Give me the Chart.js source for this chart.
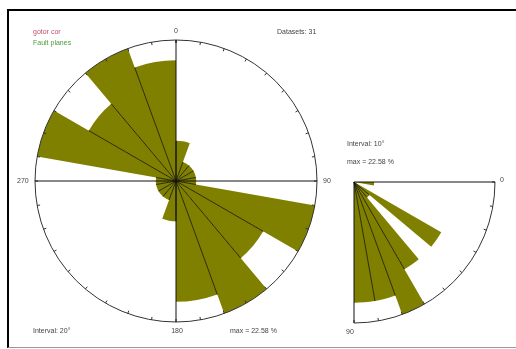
<!DOCTYPE html>
<html>
<head>
<meta charset="utf-8">
<script src="https://cdn.jsdelivr.net/npm/chart.js@4/dist/chart.umd.min.js"></script>
<style>
  html, body { margin: 0; padding: 0; background: #fff; }
  #wrap { position: relative; width: 516px; height: 349px; overflow: hidden; background: #fff; }
  #frame { position: absolute; left: 7px; top: 9px; width: 530px; height: 336px;
           border-left: 2px solid #000; border-top: 2px solid #000; border-bottom: 1px solid #999; }
  canvas { position: absolute; left: 0; top: 0; }
  .note { position: absolute; font: 7px "Liberation Sans", Arial, sans-serif; line-height: 8px;
          color: #444; white-space: nowrap; }
</style>
</head>
<body>
<div id="wrap">
  <div id="frame"></div>
  <canvas id="strike" width="516" height="349"></canvas>
  <canvas id="dip" width="516" height="349"></canvas>
  <div class="note" style="left:33px;top:28px;color:#c0506a;">gotor cor</div>
  <div class="note" style="left:33px;top:39px;color:#4f9a3c;">Fault planes</div>
  <div class="note" style="left:277px;top:28px;">Datasets: 31</div>
  <div class="note" style="left:33px;top:327px;">Interval: 20°</div>
  <div class="note" style="left:230px;top:327px;">max = 22.58 %</div>
  <div class="note" style="left:347px;top:140px;">Interval: 10°</div>
  <div class="note" style="left:347px;top:158px;">max = 22.58 %</div>
</div>
<script>
// Strike rose, 20° classes clockwise from north (bidirectional), in % of 31 planes
const strikeBins = ['0-20', '20-40', '40-60', '60-80', '80-100', '100-120', '120-140', '140-160', '160-180',
                    '180-200', '200-220', '220-240', '240-260', '260-280', '280-300', '300-320', '320-340', '340-360'];
const strikePct = [6.45, 3.23, 3.23, 3.23, 3.23, 22.58, 16.13, 22.58, 19.35,
                   6.45, 3.23, 3.23, 3.23, 3.23, 22.58, 16.13, 22.58, 19.35];

// Dip rose, 10° classes from horizontal (0) to vertical (90), in % of 31 planes
const dipBins = ['0-10', '10-20', '20-30', '30-40', '40-50', '50-60', '60-70', '70-80', '80-90'];
const dipPct = [3.23, 0, 0, 16.13, 3.23, 16.13, 22.58, 19.35, 19.35];

// Outer circle value (max class)
const MAX_PCT = 22.58;

const strikeAxisLabels = ['0', '90', '180', '270'];
const dipAxisLabels = ['0', '90'];

const OLIVE = '#808000';
const FONT = '7px "Liberation Sans", Arial, sans-serif';

// Draws sector edges, the reference circle/arc with 10° ticks, axes and axis labels
const roseFrame = {
  id: 'roseFrame',
  afterDatasetsDraw(chart, args, o) {
    const sc = chart.scales.r;
    const cx = sc.xCenter, cy = sc.yCenter, R = sc.drawingArea;
    const ctx = chart.ctx;
    const arcs = chart.getDatasetMeta(0).data;
    const n = arcs.length;
    const rad = d => d * Math.PI / 180;
    ctx.save();

    // radial edges between neighbouring sectors
    ctx.strokeStyle = '#1e1e00';
    ctx.lineWidth = 0.9;
    ctx.beginPath();
    for (let i = 0; i < n; i++) {
      if (i === n - 1 && !o.closed) continue;
      const a = arcs[i], b = arcs[(i + 1) % n];
      const len = Math.min(a.outerRadius, b.outerRadius);
      if (len <= 0) continue;
      ctx.moveTo(cx, cy);
      ctx.lineTo(cx + len * Math.cos(a.endAngle), cy + len * Math.sin(a.endAngle));
    }
    ctx.stroke();

    // outer circle / arc
    ctx.strokeStyle = '#333';
    ctx.lineWidth = 1;
    ctx.beginPath();
    ctx.arc(cx, cy, R, rad(o.arcFrom), rad(o.arcTo));
    ctx.stroke();

    // tick marks every 10°
    ctx.beginPath();
    for (let d = o.arcFrom; d <= o.arcTo + 0.01; d += 10) {
      const t = rad(d);
      ctx.moveTo(cx + R * Math.cos(t), cy + R * Math.sin(t));
      ctx.lineTo(cx + (R - 3) * Math.cos(t), cy + (R - 3) * Math.sin(t));
    }
    ctx.stroke();

    // axes from the centre
    ctx.strokeStyle = '#111';
    ctx.beginPath();
    o.rays.forEach(d => {
      const t = rad(d);
      ctx.moveTo(cx, cy);
      ctx.lineTo(cx + R * Math.cos(t), cy + R * Math.sin(t));
    });
    ctx.stroke();

    // axis labels
    ctx.fillStyle = '#444';
    ctx.font = FONT;
    ctx.textBaseline = 'middle';
    o.labels.forEach((txt, k) => {
      const p = o.labelPos[k];
      ctx.textAlign = p[2];
      ctx.fillText(txt, cx + p[0] * R + p[3], cy + p[1] * R + p[4]);
    });
    ctx.restore();
  }
};

function roseOptions(padding, startAngle, frame) {
  return {
    responsive: false,
    animation: false,
    devicePixelRatio: 1,
    layout: { padding },
    plugins: { legend: { display: false }, tooltip: { enabled: false }, roseFrame: frame },
    scales: {
      r: {
        min: 0,
        max: MAX_PCT,
        startAngle,
        grid: { display: false },
        angleLines: { display: false },
        ticks: { display: false },
        pointLabels: { display: false }
      }
    }
  };
}

new Chart(document.getElementById('strike'), {
  type: 'polarArea',
  data: {
    labels: strikeBins,
    datasets: [{ label: 'Fault planes', data: strikePct, backgroundColor: OLIVE, borderWidth: 0 }]
  },
  options: roseOptions({ left: 35, right: 199, top: 40, bottom: 27 }, 0, {
    closed: true,
    arcFrom: -90, arcTo: 270,
    rays: [-90, 0, 90, 180],
    labels: strikeAxisLabels,
    labelPos: [
      [0, -1, 'center', 0, -9],
      [1, 0, 'left', 6, 0],
      [0, 1, 'center', 1, 9],
      [-1, 0, 'left', -18, 0]
    ]
  }),
  plugins: [roseFrame]
});

new Chart(document.getElementById('dip'), {
  type: 'polarArea',
  data: {
    labels: dipBins,
    datasets: [{ label: 'Fault planes', data: dipPct, backgroundColor: OLIVE, borderWidth: 0, angle: 10 }]
  },
  options: roseOptions({ left: 213, right: 21, top: 41, bottom: 26 }, 90, {
    closed: false,
    arcFrom: 0, arcTo: 90,
    rays: [0, 90],
    labels: dipAxisLabels,
    labelPos: [
      [1, 0, 'left', 5, -2],
      [0, 1, 'left', -8, 9]
    ]
  }),
  plugins: [roseFrame]
});
</script>
</body>
</html>
